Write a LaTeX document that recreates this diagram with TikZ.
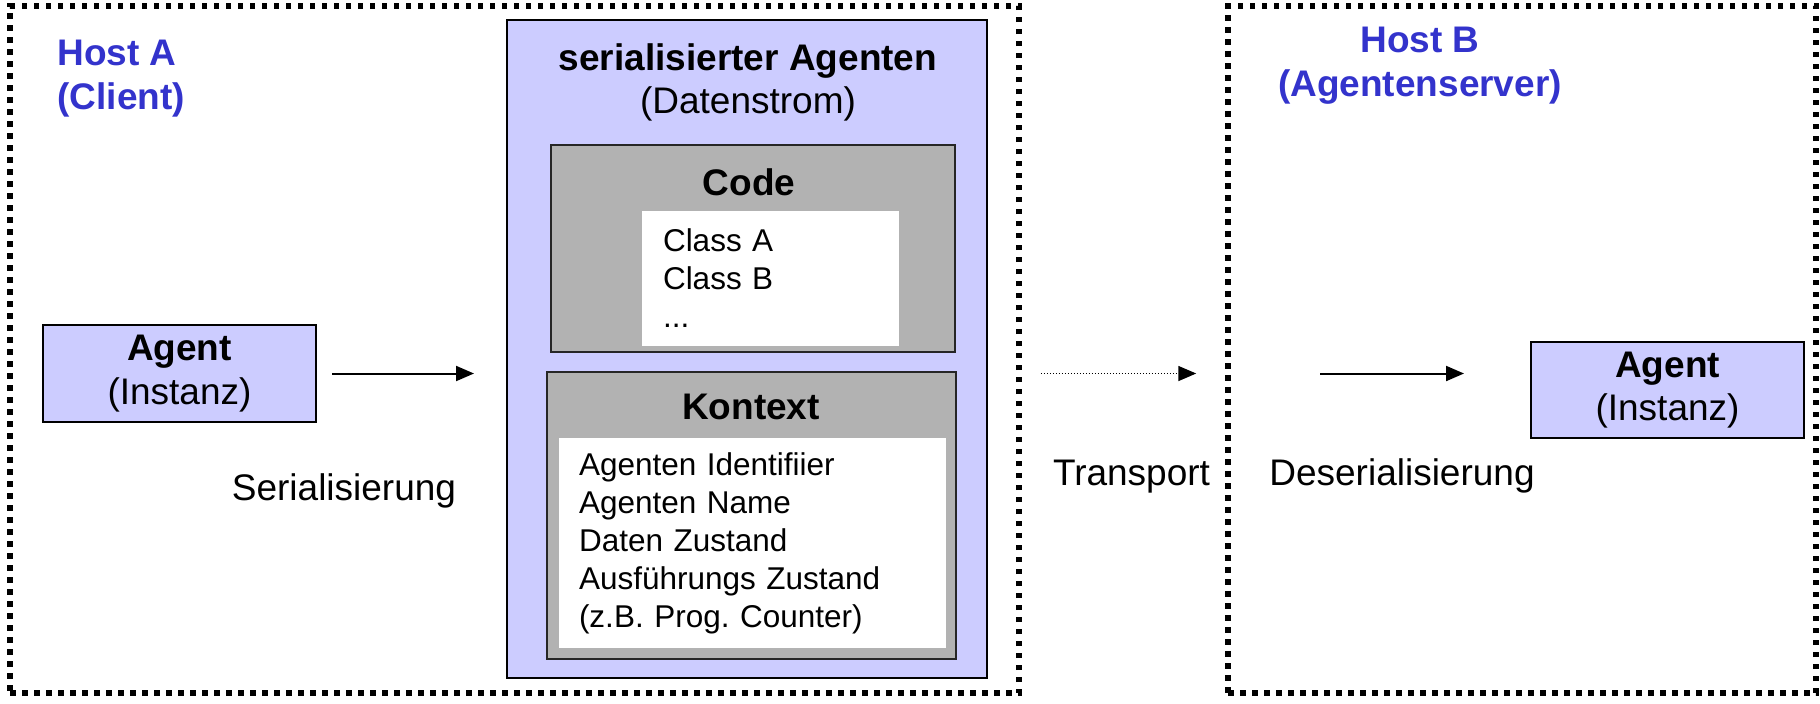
\documentclass[tikz,border=0pt]{standalone}
\usepackage{fontspec}
\setmainfont{Liberation Sans}
\usetikzlibrary{arrows.meta}
\definecolor{agentlila}{HTML}{CCCCFF}
\definecolor{kastengrau}{HTML}{B2B2B2}
\definecolor{hostblau}{HTML}{3333CC}
\newcommand{\titelschrift}{\fontsize{18.5pt}{21.75pt}\selectfont}
\newcommand{\listenschrift}{\fontsize{15.75pt}{19pt}\selectfont}
\frenchspacing

\begin{document}
\begin{tikzpicture}[x=0.5pt,y=-0.5pt,>={Triangle[length=9pt,width=7.5pt]},
  rahmen/.style 2 args={draw, line width=2.75pt, dash pattern=on 2.75pt off 3.25pt, minimum width=#1, minimum height=#2, inner sep=0pt},
  lilabox/.style 2 args={draw, line width=1pt, fill=agentlila, minimum width=#1, minimum height=#2, inner sep=0pt, align=center, font=\titelschrift},
  graubox/.style 2 args={draw=black!85, line width=1pt, fill=kastengrau, minimum width=#1, minimum height=#2, inner sep=0pt},
  liste/.style 2 args={fill=white, text width=#1, minimum height=#2, inner xsep=10.5pt, inner ysep=0pt, align=left, font=\listenschrift},
  titel/.style={font=\titelschrift, inner sep=0pt},
  pfeil/.style={->, line width=1pt}]

\useasboundingbox (0,0) rectangle (1820,703);

%Rechner (gepunktete Rahmen)
\node[rahmen={504.5pt}{343.5pt}] (hostA) at (514.5,349.5) {};
\node[rahmen={294pt}{343.5pt}] (hostB) at (1522,349.5) {};
\node[titel, font=\titelschrift\bfseries, text=hostblau, anchor=north west, align=left] (hostAtitel) at (57,40) {Host A\\(Client)};
\node[titel, font=\titelschrift\bfseries, text=hostblau, anchor=north, align=center] (hostBtitel) at (1420,27) {Host B\\(Agentenserver)};

%serialisierter Agent
\node[lilabox={240pt}{329pt}] (serial) at (747,349) {};
\node[titel, anchor=north, align=center] (serialtitel) at (748,43) {\textbf{serialisierter Agenten}\\(Datenstrom)};

\node[graubox={202pt}{103.5pt}] (code) at (753,248.5) {};
\node[titel, font=\titelschrift\bfseries, anchor=base] (codetitel) at (749,195) {Code};
\node[liste={107.5pt}{67.5pt}] (codeliste) at (770.5,278.5) {Class A\\Class B\\...};

\node[graubox={204.5pt}{143.5pt}] (kontext) at (751.5,515.5) {};
\node[titel, font=\titelschrift\bfseries, anchor=base] (kontexttitel) at (751,419) {Kontext};
\node[liste={173.5pt}{105pt}, inner xsep=10pt] (kontextliste) at (752.5,543) {Agenten Identifiier\\Agenten Name\\Daten Zustand\\Ausführungs Zustand\\(z.B. Prog. Counter)};

%Agenten
\node[lilabox={136.5pt}{48.5pt}] (agentA) at (179.5,373.5) {\textbf{Agent}\\(Instanz)};
\node[lilabox={136.5pt}{48pt}] (agentB) at (1667.5,390) {\textbf{Agent}\\(Instanz)};

%Pfeile
\draw[pfeil, shorten <=7.5pt, shorten >=16pt] (agentA.east) -- (agentA.east -| serial.west);
\draw[->, line width=0.75pt, dash pattern=on 0.75pt off 0.75pt, shorten <=9.5pt, shorten >=14.5pt] (agentA.east -| hostA.east) -- (agentA.east -| hostB.west);
\draw[pfeil, shorten <=47.5pt, shorten >=33pt] (agentA.east -| hostB.west) -- (agentA.east -| agentB.west);

\node[titel, anchor=base] (serialisierung) at (344,500) {Serialisierung};
\node[titel, anchor=base] (transport) at (1131.5,485) {Transport};
\node[titel, anchor=base] (deserialisierung) at (1402,485) {Deserialisierung};

\end{tikzpicture}
\end{document}
